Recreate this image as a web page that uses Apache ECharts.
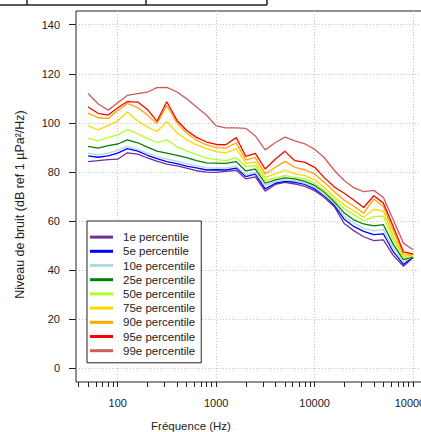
<!DOCTYPE html>
<html>
<head>
<meta charset="utf-8">
<script src="https://cdn.jsdelivr.net/npm/echarts@6/dist/echarts.min.js"></script>
<style>
  html, body { margin: 0; padding: 0; background: #fff; }
  #chart { width: 421px; height: 432px; }
</style>
</head>
<body>
<div id="chart"></div>
<script>
// One-third-octave band centre frequencies (Hz)
const freqs = [50, 63, 80, 100, 125, 160, 200, 250, 315, 400, 500, 630, 800, 1000, 1250, 1600, 2000, 2500,
  3150, 4000, 5000, 6300, 8000, 10000, 12500, 16000, 20000, 25000, 31500, 40000, 50000, 63000, 80000, 100000];

// Noise level percentiles per band (dB re 1 µPa²/Hz)
const p1  = [84.2, 84.6, 85.0, 85.2, 87.8, 87.3, 85.7, 84.4, 83.2, 82.5, 81.6, 80.5, 79.9, 79.8, 80.2, 80.7, 77.2, 78.0,
  72.2, 74.9, 75.8, 75.1, 74.1, 72.4, 69.7, 65.7, 59.0, 56.1, 53.6, 52.0, 52.3, 46.0, 41.6, 45.0];
const p5  = [86.6, 86.0, 86.6, 87.7, 89.5, 88.5, 86.8, 85.4, 84.2, 83.4, 82.4, 81.7, 80.8, 80.9, 80.8, 81.6, 78.1, 79.1,
  73.1, 75.4, 76.2, 75.8, 74.9, 73.1, 70.4, 66.4, 60.7, 57.8, 55.8, 54.5, 54.8, 47.5, 42.3, 45.3];
const p10 = [87.7, 87.0, 87.7, 88.8, 90.5, 89.1, 87.7, 86.3, 85.2, 84.4, 83.4, 82.6, 81.7, 81.6, 81.6, 82.3, 78.9, 79.8,
  74.5, 76.1, 76.8, 76.5, 75.4, 73.8, 70.8, 67.0, 62.0, 59.2, 57.0, 56.0, 56.5, 49.0, 43.4, 45.5];
const p25 = [90.4, 89.7, 90.7, 91.4, 93.1, 91.9, 90.1, 88.5, 87.7, 86.8, 85.8, 84.6, 83.7, 83.6, 83.5, 84.2, 80.4, 81.2,
  75.4, 76.8, 77.6, 77.2, 76.2, 74.5, 71.8, 67.7, 63.3, 60.5, 58.8, 58.0, 58.5, 50.5, 44.3, 45.3];
const p50 = [93.7, 92.7, 94.1, 95.1, 97.3, 95.5, 93.7, 92.0, 93.1, 90.3, 88.6, 87.1, 85.6, 85.0, 84.6, 85.8, 82.2, 82.6,
  76.5, 77.6, 78.5, 77.8, 77.2, 75.4, 72.4, 68.6, 65.0, 62.6, 60.2, 61.8, 62.0, 52.5, 45.0, 45.7];
const p75 = [98.9, 97.1, 99.0, 100.8, 104.5, 100.7, 98.3, 96.5, 100.5, 96.0, 93.2, 91.0, 89.5, 88.3, 87.8, 89.5, 83.5, 84.0,
  77.8, 79.2, 80.8, 79.2, 78.5, 76.8, 73.8, 69.7, 66.5, 64.2, 61.5, 64.8, 64.0, 54.0, 45.7, 46.1];
const p90 = [104.0, 102.1, 101.8, 105.0, 107.9, 106.2, 103.2, 99.7, 107.1, 100.0, 95.9, 93.0, 91.0, 89.9, 89.7, 91.8, 84.9, 85.8,
  79.2, 81.9, 84.3, 81.9, 80.8, 79.2, 75.8, 71.8, 68.5, 66.0, 63.2, 69.0, 65.9, 56.0, 46.6, 46.4];
const p95 = [106.5, 103.9, 103.2, 106.2, 108.7, 108.5, 105.5, 100.7, 108.6, 101.0, 97.0, 94.1, 92.2, 91.2, 91.1, 94.0, 86.4, 87.6,
  81.2, 85.3, 88.4, 84.6, 83.9, 81.9, 77.8, 73.8, 71.3, 68.6, 65.5, 70.3, 67.3, 57.8, 47.4, 46.6];
const p99 = [112.0, 107.8, 105.2, 108.2, 111.2, 111.9, 112.5, 114.4, 114.5, 112.6, 109.9, 106.5, 103.1, 98.8, 98.0, 98.0, 97.8, 94.7,
  89.0, 92.0, 94.2, 92.7, 91.4, 89.3, 85.9, 80.5, 76.5, 73.6, 72.0, 72.5, 69.6, 60.5, 51.0, 48.3];

const seriesNames = ['1e percentile', '5e percentile', '10e percentile', '25e percentile', '50e percentile',
  '75e percentile', '90e percentile', '95e percentile', '99e percentile'];
const seriesValues = [p1, p5, p10, p25, p50, p75, p90, p95, p99];
const seriesColors = ['#7030A0', '#0000FF', '#ADD8E6', '#008000', '#ADFF2F', '#FFD700', '#FFA500', '#FF0000', '#CD5C5C'];

// Axis ticks
const yTicks = [0, 20, 40, 60, 80, 100, 120, 140];
const xMajorTicks = [100, 1000, 10000, 100000];
const xMinorTicks = [40, 50, 60, 70, 80, 90, 200, 300, 400, 500, 600, 700, 800, 900,
  2000, 3000, 4000, 5000, 6000, 7000, 8000, 9000, 20000, 30000, 40000, 50000, 60000, 70000, 80000, 90000];

const FONT = "'Liberation Sans', Arial, sans-serif";
const INK = '#222';
const X_MIN = Math.pow(10, 1.576);
const X_MAX = Math.pow(10, 5.132);

const chart = echarts.init(document.getElementById('chart'), null, { renderer: 'svg' });

const gridDots = { color: '#c4c4c4', width: 1, type: [1, 2] };

chart.setOption({
  animation: false,
  backgroundColor: '#fff',
  textStyle: { fontFamily: FONT },
  grid: {
    left: 76, top: 11, width: 350, height: 371,
    outerBoundsMode: 'none', containLabel: false,
    show: true, borderColor: INK, borderWidth: 1, backgroundColor: 'transparent'
  },
  xAxis: [
    {
      type: 'log', logBase: 10, min: X_MIN, max: X_MAX, position: 'bottom',
      axisLine: { show: false, onZero: false },
      axisTick: { show: true, inside: false, length: 5, customValues: xMajorTicks, lineStyle: { color: INK } },
      axisLabel: { customValues: xMajorTicks, margin: 15, color: INK, fontSize: 11, fontFamily: FONT,
        hideOverlap: false, formatter: v => String(Math.round(v)) },
      splitLine: { show: true, lineStyle: gridDots }
    },
    {
      type: 'log', logBase: 10, min: X_MIN, max: X_MAX, position: 'bottom', gridIndex: 0,
      axisLine: { show: false, onZero: false },
      axisTick: { show: true, inside: false, length: 5, customValues: xMinorTicks, lineStyle: { color: INK } },
      axisLabel: { show: false },
      splitLine: { show: false }
    }
  ],
  yAxis: {
    type: 'value', min: -5.6, max: 145.6,
    axisLine: { show: false, onZero: false },
    axisTick: { show: true, inside: false, length: 7, customValues: yTicks, lineStyle: { color: INK } },
    axisLabel: { customValues: yTicks, margin: 16, color: INK, fontSize: 11, fontFamily: FONT },
    splitLine: { show: true, lineStyle: gridDots }
  },
  legend: {
    orient: 'vertical', left: 87, top: 221,
    icon: 'rect', itemWidth: 23, itemHeight: 3, itemGap: 0,
    padding: [9, 6, 5, 3],
    borderColor: INK, borderWidth: 1, borderRadius: 0, backgroundColor: '#fff',
    textStyle: { fontSize: 11.5, color: INK, fontFamily: FONT, lineHeight: 14.2, padding: [0, 0, 0, 5] },
    data: seriesNames
  },
  series: seriesNames.map((name, i) => ({
    name: name,
    type: 'line',
    xAxisIndex: 0,
    yAxisIndex: 0,
    data: freqs.map((f, j) => [f, seriesValues[i][j]]),
    showSymbol: false,
    symbol: 'none',
    lineStyle: { width: 1.3, color: seriesColors[i] },
    itemStyle: { color: seriesColors[i] },
    emphasis: { disabled: true }
  })),
  graphic: [
    // header table frame above the plot
    { type: 'polyline', shape: { points: [[0, 5], [267, 5]] }, style: { stroke: INK, lineWidth: 1.5, fill: null } },
    { type: 'line', shape: { x1: 27, y1: 0, x2: 27, y2: 5 }, style: { stroke: INK, lineWidth: 1.5 } },
    { type: 'line', shape: { x1: 146, y1: 0, x2: 146, y2: 5 }, style: { stroke: INK, lineWidth: 1.5 } },
    { type: 'line', shape: { x1: 267, y1: 0, x2: 267, y2: 5 }, style: { stroke: INK, lineWidth: 1.5 } },
    // axis titles
    {
      type: 'text', x: 20, y: 204.5, rotation: Math.PI / 2,
      style: { text: 'Niveau de bruit (dB ref 1 µPa²/Hz)', fill: INK, font: '12.5px ' + FONT,
        align: 'center', verticalAlign: 'middle' }
    },
    {
      type: 'text', x: 191, y: 426,
      style: { text: 'Fréquence (Hz)', fill: INK, font: '11.5px ' + FONT, align: 'center', verticalAlign: 'middle' }
    }
  ]
});
</script>
</body>
</html>
